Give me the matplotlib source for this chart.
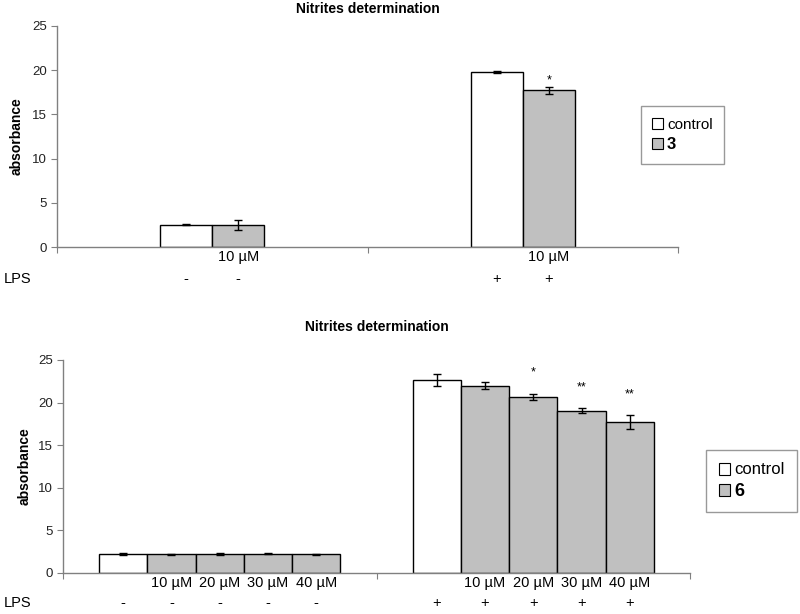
import matplotlib
matplotlib.use("Agg")
import matplotlib.pyplot as plt
from matplotlib.patches import Patch
import matplotlib.transforms as mtransforms

plt.rcParams['font.family'] = ['Liberation Sans', 'DejaVu Sans']

# ---- data ----
title = "Nitrites determination"
ylabel = "absorbance"

# top chart (compound 3)
top_control = [2.5, 19.8]
top_control_err = [0.05, 0.1]
top_cmpd = [2.5, 17.75]
top_cmpd_err = [0.55, 0.4]
top_dose_labels = ["10 µM", "10 µM"]
top_lps = [["-", "-"], ["+", "+"]]
top_stars = ["", "*"]
top_cmpd_name = "3"

# bottom chart (compound 6)
bot_labels = ["", "10 µM", "20 µM", "30 µM", "40 µM"]
bot_neg = [2.22, 2.17, 2.18, 2.22, 2.17]
bot_neg_err = [0.1, 0.08, 0.08, 0.06, 0.08]
bot_pos = [22.7, 22.0, 20.7, 19.05, 17.7]
bot_pos_err = [0.7, 0.45, 0.35, 0.25, 0.8]
bot_stars = ["", "", "*", "**", "**"]
bot_lps = ["-", "+"]
bot_cmpd_name = "6"

GRAY = "#c0c0c0"
AXC = "#808080"
XFS = 10.5

fig = plt.figure(figsize=(8, 6.14), dpi=100)


def style_axes(ax, pad):
    for s in ["top", "right"]:
        ax.spines[s].set_visible(False)
    for s in ["left", "bottom"]:
        ax.spines[s].set_color(AXC)
        ax.spines[s].set_linewidth(1.0)
    ax.set_xlim(0, 2)
    ax.set_ylim(0, 25)
    ax.set_yticks([0, 5, 10, 15, 20, 25])
    ax.tick_params(axis='y', colors=AXC, labelcolor='#222222', labelsize=9.5,
                   length=4, direction='out')
    ax.set_xticks([0, 1, 2])
    ax.set_xticklabels([])
    ax.tick_params(axis='x', colors=AXC, length=4, direction='out')
    ax.set_ylabel(ylabel, fontsize=10, fontweight='bold')
    ax.set_title(title, fontsize=10, fontweight='bold', pad=pad)


def make_legend(ax, name, anchor, fs, bpad, lspace):
    handles = [Patch(facecolor='white', edgecolor='black', linewidth=0.8),
               Patch(facecolor=GRAY, edgecolor='black', linewidth=0.8)]
    leg = ax.legend(handles, ["control", name], loc='center left',
                    bbox_to_anchor=anchor, bbox_transform=fig.transFigure,
                    fancybox=False, frameon=True, fontsize=fs,
                    handlelength=0.7, handleheight=0.7, handletextpad=0.25,
                    borderpad=bpad, labelspacing=lspace, borderaxespad=0)
    leg.get_frame().set_edgecolor(AXC)
    leg.get_frame().set_linewidth(1.0)
    leg.get_texts()[1].set_fontweight('bold')
    leg.get_texts()[1].set_fontsize(fs + 1)
    return leg


# ---- top ----
ax1 = fig.add_axes([0.07125, 0.5977, 0.77625, 0.36])
style_axes(ax1, 9)
w1 = 0.1675
centers = [0.5, 1.5]
trans1 = mtransforms.blended_transform_factory(ax1.transData, fig.transFigure)
for i, c in enumerate(centers):
    xc = c - w1 / 2
    xg = c + w1 / 2
    ax1.bar(xc, top_control[i], width=w1, color='white', edgecolor='black',
            linewidth=1.0, zorder=2)
    ax1.bar(xg, top_cmpd[i], width=w1, color=GRAY, edgecolor='black',
            linewidth=1.0, zorder=2)
    ax1.errorbar([xc, xg], [top_control[i], top_cmpd[i]],
                 yerr=[top_control_err[i], top_cmpd_err[i]], fmt='none',
                 ecolor='black', elinewidth=1.0, capsize=3, capthick=1.0, zorder=3)
    if top_stars[i]:
        ax1.text(xg, top_cmpd[i] + top_cmpd_err[i] + 0.05, top_stars[i],
                 ha='center', va='bottom', fontsize=9)
    ax1.text(xg, 1 - 257 / 614, top_dose_labels[i], transform=trans1,
             ha='center', va='center', fontsize=XFS)
    for x, s in zip([xc, xg], top_lps[i]):
        ax1.text(x, 1 - 279 / 614, s, transform=trans1, ha='center',
                 va='center', fontsize=XFS)
fig.text(4 / 800, 1 - 279 / 614, "LPS", ha='left', va='center', fontsize=XFS)
ax1.yaxis.set_label_coords(-0.053, 0.5)
make_legend(ax1, top_cmpd_name, (641 / 800, 1 - 135 / 614), 11, 0.75, 0.35)

# ---- bottom ----
ax2 = fig.add_axes([0.07875, 0.0673, 0.78375, 0.3464])
style_axes(ax2, 21)
w2 = 0.154
trans2 = mtransforms.blended_transform_factory(ax2.transData, fig.transFigure)
for g, (vals, errs) in enumerate([(bot_neg, bot_neg_err), (bot_pos, bot_pos_err)]):
    c = centers[g]
    for i in range(5):
        x = c + (i - 2) * w2
        ax2.bar(x, vals[i], width=w2, color='white' if i == 0 else GRAY,
                edgecolor='black', linewidth=1.0, zorder=2)
        ax2.errorbar(x, vals[i], yerr=errs[i], fmt='none', ecolor='black',
                     elinewidth=1.0, capsize=3, capthick=1.0, zorder=3)
        if bot_labels[i]:
            ax2.text(x, 1 - 583 / 614, bot_labels[i], transform=trans2,
                     ha='center', va='center', fontsize=XFS)
        ax2.text(x, 1 - 603 / 614, bot_lps[g], transform=trans2,
                 ha='center', va='center', fontsize=XFS)
        if g == 1 and bot_stars[i]:
            ax2.text(x, vals[i] + errs[i] + 1.8, bot_stars[i], ha='center',
                     va='bottom', fontsize=9)
fig.text(4 / 800, 1 - 603 / 614, "LPS", ha='left', va='center', fontsize=XFS)
ax2.yaxis.set_label_coords(-0.05, 0.5)
make_legend(ax2, bot_cmpd_name, (706 / 800, 1 - 481 / 614), 12, 0.75, 0.3)

fig.savefig("out.png", dpi=100)
